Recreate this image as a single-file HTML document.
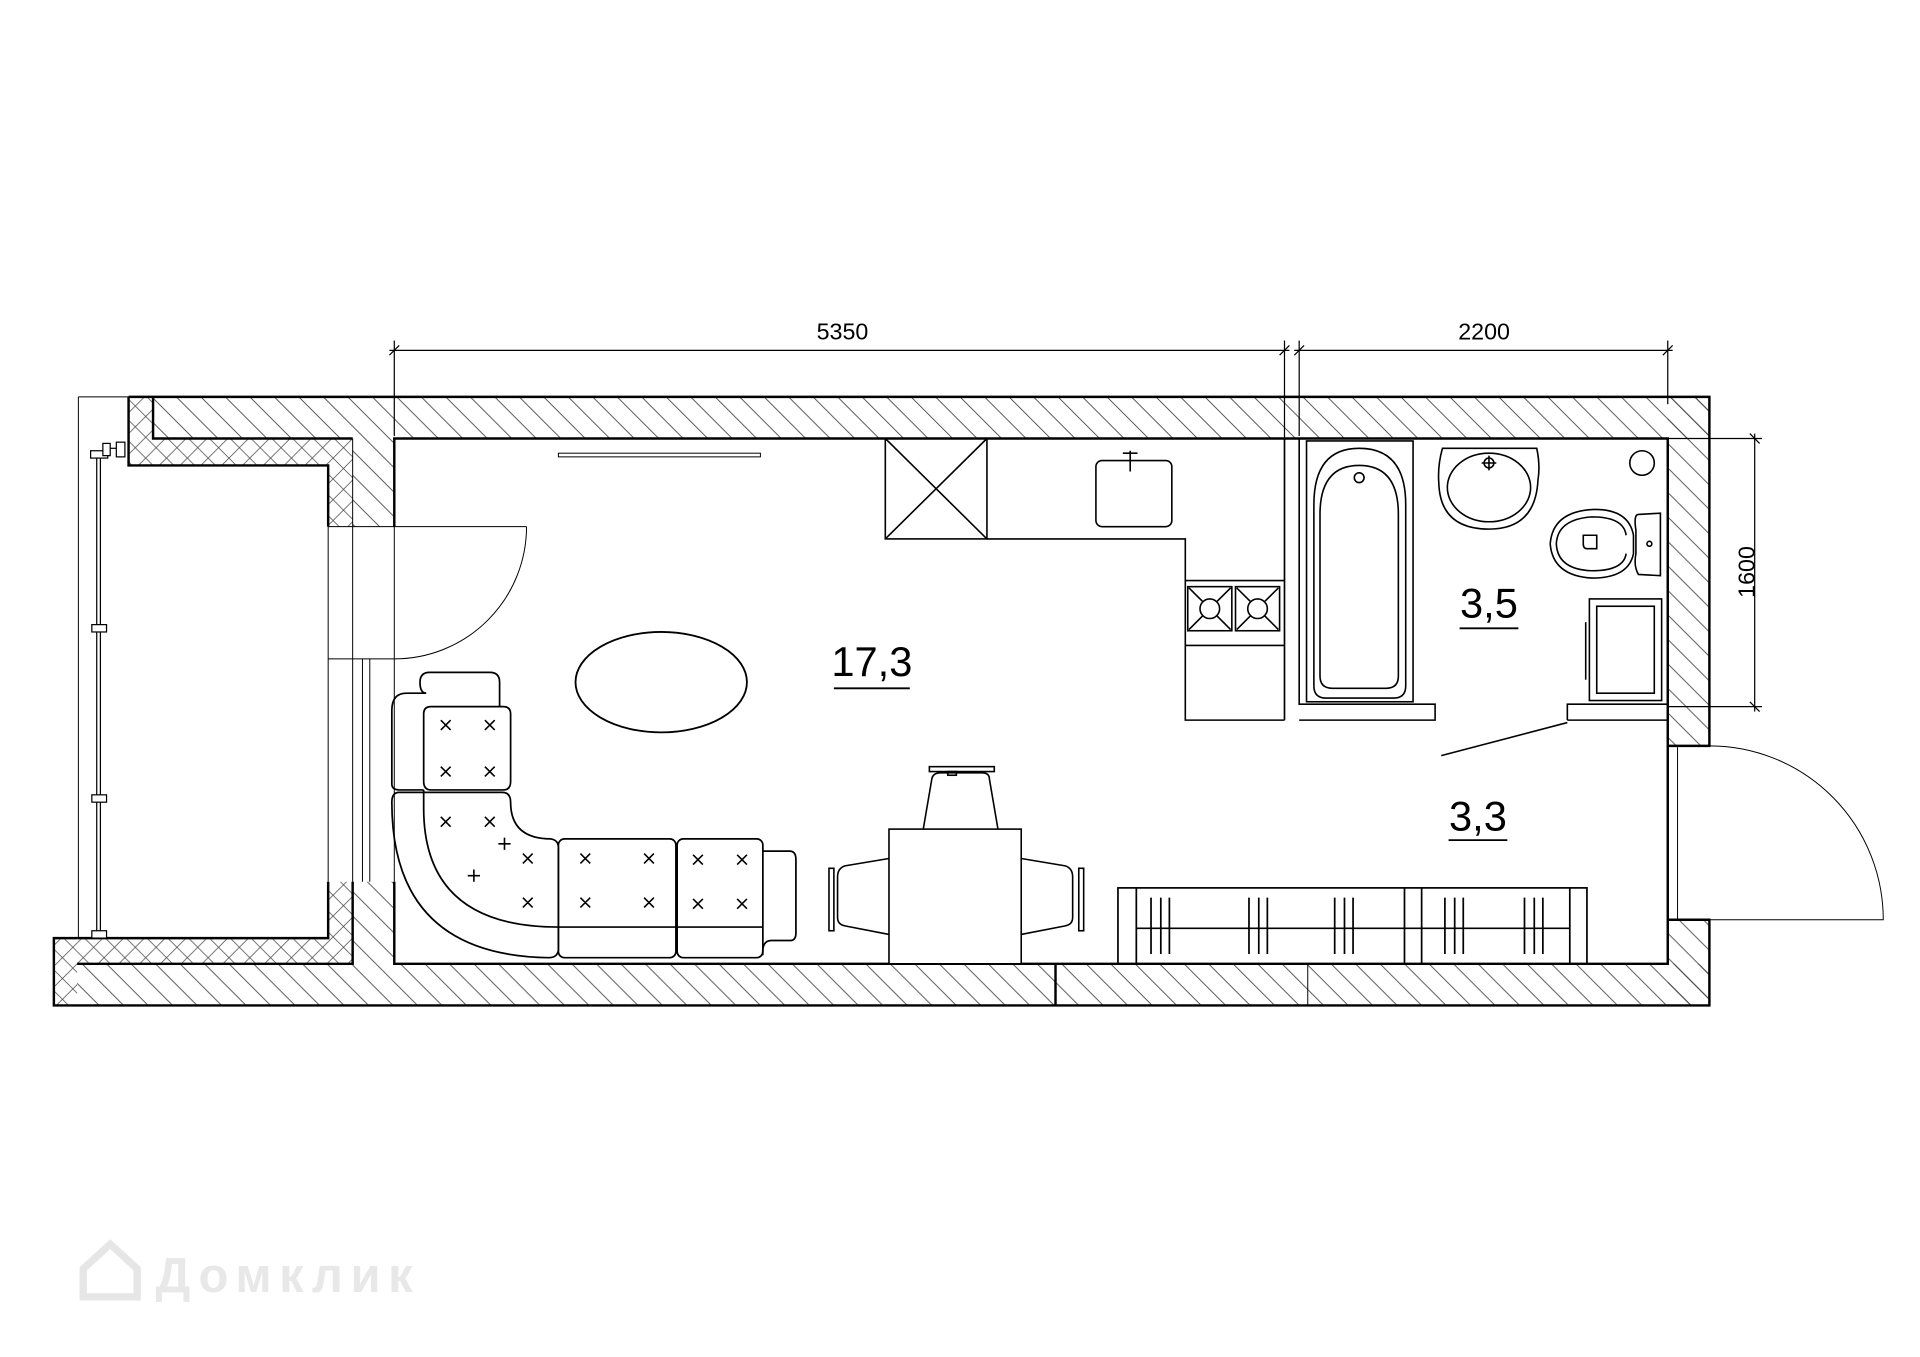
<!DOCTYPE html>
<html><head><meta charset="utf-8"><style>
html,body{margin:0;padding:0;background:#fff;}
svg{display:block}
text{font-family:"Liberation Sans",sans-serif;}
</style></head><body>
<svg width="1920" height="1357" viewBox="0 0 1568 1108" xmlns="http://www.w3.org/2000/svg">
<defs>
<pattern id="h" width="20" height="20" patternUnits="userSpaceOnUse">
<path d="M-4,-4 L24,24 M-4,16 L4,24 M16,-4 L24,4" stroke="#444" stroke-width="0.7"/>
</pattern>
<pattern id="x" width="17" height="17" patternUnits="userSpaceOnUse">
<path d="M-4,-4 L21,21 M-4,13 L4,21 M13,-4 L21,4 M-4,21 L21,-4 M-4,4 L4,-4 M13,21 L21,13" stroke="#444" stroke-width="0.6"/>
</pattern>
</defs>
<rect width="1568" height="1108" fill="#fff"/>
<g fill="none" stroke="#000">
<rect x="125" y="324" width="1271" height="34" fill="url(#h)" stroke="none"/>
<rect x="1362" y="324" width="34" height="285" fill="url(#h)" stroke="none"/>
<rect x="1362" y="751" width="34" height="70" fill="url(#h)" stroke="none"/>
<rect x="63" y="787" width="1333" height="34" fill="url(#h)" stroke="none"/>
<rect x="288" y="358" width="34" height="72" fill="url(#h)" stroke="none"/>
<rect x="288" y="720" width="34" height="67" fill="url(#h)" stroke="none"/>
<path d="M105,324 H125 V358 H288 V430 H268 V380 H105 Z" fill="url(#x)" stroke="none"/>
<path d="M63,766 H268 V720 H288 V787 H63 Z" fill="url(#x)" stroke="none"/>
<rect x="44" y="766" width="19" height="55" fill="url(#x)" stroke="none"/>
<g stroke-width="2">
<path d="M105,324 H1396 V609 H1362 V358 H322 V430"/>
<path d="M105,324 V380 H268 V430"/>
<path d="M125,324 V358 H288"/>
<path d="M268,720 V766 H63"/>
<path d="M322,720 V787 H1362 V751 H1396 V821 H44 V766 H63"/>
<path d="M63,787 H288 V720"/>
<path d="M1362,609 V751"/>
<line x1="862" y1="787" x2="862" y2="821"/>
</g>
<g stroke-width="0.8">
<line x1="64" y1="324" x2="105" y2="324"/>
<line x1="64" y1="324" x2="64" y2="766"/>
<line x1="288" y1="358" x2="288" y2="787"/>
<line x1="268" y1="430" x2="430" y2="430"/>
<line x1="268" y1="538" x2="322" y2="538"/>
<line x1="268" y1="430" x2="268" y2="720"/>
<line x1="296" y1="538" x2="296" y2="720"/>
<line x1="302" y1="538" x2="302" y2="720"/>
<line x1="322" y1="430" x2="322" y2="720"/>
<path d="M430,430 A108,108 0 0 1 322,538"/>
<path d="M1396,609 A142,142 0 0 1 1538,751 H1396"/>
<line x1="1068" y1="787" x2="1068" y2="821"/>
<line x1="1370" y1="610" x2="1370" y2="751"/>
<rect x="456" y="370" width="165" height="3"/>
</g>
<g stroke-width="1">
<line x1="79" y1="368" x2="79" y2="762"/><line x1="82" y1="368" x2="82" y2="762"/>
<rect x="75" y="510" width="12" height="6" fill="#fff"/>
<rect x="75" y="649" width="12" height="6" fill="#fff"/>
<rect x="75" y="760" width="12" height="6" fill="#fff"/>
<rect x="74" y="368" width="14" height="6" fill="#fff"/>
<rect x="84" y="362" width="6" height="10" fill="#fff"/>
<rect x="95" y="361" width="7" height="12" fill="#fff"/>
<line x1="90" y1="366" x2="95" y2="366"/>
</g>
<g stroke-width="1">
<line x1="318" y1="286" x2="1053" y2="286"/>
<line x1="1057" y1="286" x2="1366" y2="286"/>
<line x1="322" y1="278" x2="322" y2="356"/>
<line x1="1049" y1="278" x2="1049" y2="588"/>
<line x1="1061" y1="278" x2="1061" y2="356"/>
<line x1="1362" y1="278" x2="1362" y2="330"/>
<line x1="1433" y1="354" x2="1433" y2="581"/>
<line x1="1362" y1="358" x2="1439" y2="358"/>
<line x1="1362" y1="577" x2="1439" y2="577"/>
<path d="M318,290 L326,282 M1045,290 L1053,282 M1057,290 L1065,282 M1358,290 L1366,282 M1429,354 L1437,362 M1429,573 L1437,581"/>
</g>
<g stroke-width="1.3">
<rect x="723" y="358" width="83" height="82"/>
<path d="M723,358 L806,440 M806,358 L723,440"/>
<path d="M806,440 H968 V588 H1049"/>
<rect x="895" y="376" width="62" height="54" rx="5"/>
<path d="M923,368 V385 M917,370 H929"/>
<path d="M968,474 H1049 M968,527 H1049"/>
<rect x="970" y="479" width="36" height="36"/><rect x="1009" y="479" width="36" height="36"/>
<circle cx="988" cy="497" r="8"/><circle cx="1027" cy="497" r="8"/>
<path d="M971,480 L982,491 M1005,480 L994,491 M971,514 L982,503 M1005,514 L994,503 M1010,480 L1021,491 M1044,480 L1033,491 M1010,514 L1021,503 M1044,514 L1033,503"/>
</g>
<g stroke-width="1.3">
<path d="M1049,358 V588 M1061,358 V575 H1172 V588 H1061"/>
<path d="M1280,588 V575 H1362 M1280,588 H1362"/>
<rect x="1067" y="360" width="87" height="213"/>
<path d="M1073,412 Q1073,366 1110,366 Q1148,366 1148,412 V560 Q1148,570 1138,570 H1083 Q1073,570 1073,560 Z"/>
<path d="M1078,420 Q1078,380 1110,380 Q1142,380 1142,420 V552 Q1142,562 1132,562 H1088 Q1078,562 1078,552 Z"/>
<circle cx="1110" cy="390" r="4"/>
<path d="M1178,366 H1255 Q1258,380 1256,392 Q1254,432 1216,432 Q1176,432 1175,394 Q1174,380 1178,366 Z"/>
<ellipse cx="1216" cy="398" rx="34" ry="28"/>
<circle cx="1216" cy="378" r="4"/><path d="M1210,378 H1222 M1216,372 V384"/>
<circle cx="1341" cy="378" r="10"/>
<path d="M1334,437 Q1330,415 1300,416 Q1268,418 1266,444 Q1268,470 1300,472 Q1330,472 1334,452 Z"/>
<path d="M1328,437 Q1326,422 1300,422 Q1272,424 1271,444 Q1272,465 1300,466 Q1326,466 1328,452"/>
<path d="M1336,433 Q1334,420 1338,420 L1356,419 V470 L1338,469 Q1334,462 1336,452 Z"/>
<circle cx="1347" cy="444" r="2"/>
<path d="M1293,437 H1304 V448 H1296 Q1293,448 1293,444 Z"/>
<rect x="1298" y="489" width="59" height="83"/>
<rect x="1304" y="495" width="47" height="71"/>
<line x1="1295" y1="508" x2="1295" y2="555"/>
<line x1="1177" y1="617" x2="1280" y2="590"/>
</g>
<ellipse cx="540" cy="557" rx="70" ry="41" stroke-width="1.5"/>
<g stroke-width="1.3">
<rect x="726" y="677" width="108" height="110" fill="#fff"/>
<path d="M754,677 L761,636 Q762,631 768,631 H802 Q808,631 808,636 L815,677"/>
<rect x="759" y="626" width="53" height="4"/><rect x="774" y="630" width="7" height="3"/>
<path d="M726,701 L690,707 Q684,709 684,716 V749 Q684,755 690,756 L726,763"/>
<rect x="677" y="709" width="4" height="51"/>
<path d="M834,701 L870,707 Q876,709 876,716 V749 Q876,755 870,756 L834,763"/>
<rect x="881" y="709" width="4" height="51"/>
</g>
<g stroke-width="1.4">
<path d="M348,566 Q343,566 343,557 Q343,549 351,549 H400 Q408,549 408,557 V577"/>
<path d="M348,566 H332 Q320,566 320,580 V640 Q320,645 326,645 H346"/>
<path d="M346,583 Q346,577 352,577 H411 Q417,577 417,583 V638 Q417,645 411,645 H352 Q346,645 346,638 Z"/>
<path d="M326,647 H410 Q417,647 417,655 Q417,685 450,685 Q456,686 456,692 V776 Q455,782 448,782 Q320,780 320,655 Q320,647 326,647 Z"/>
<path d="M346,645 V660 Q346,757 456,757"/>
<rect x="456" y="685" width="96" height="97" rx="5"/>
<rect x="553" y="685" width="70" height="97" rx="5"/>
<path d="M456,757 H623 M623,695 H645 Q650,695 650,702 V762 Q650,768 645,768 H630 Q622,768 623,780"/>
</g>
<g stroke-width="1.3">
<path d="M360,588 l8,8 m0,-8 l-8,8 M396,588 l8,8 m0,-8 l-8,8 M360,626 l8,8 m0,-8 l-8,8 M396,626 l8,8 m0,-8 l-8,8 M360,667 l8,8 m0,-8 l-8,8 M396,667 l8,8 m0,-8 l-8,8 M427,697 l8,8 m0,-8 l-8,8 M427,733 l8,8 m0,-8 l-8,8 M474,697 l8,8 m0,-8 l-8,8 M526,697 l8,8 m0,-8 l-8,8 M474,733 l8,8 m0,-8 l-8,8 M526,733 l8,8 m0,-8 l-8,8 M566,698 l8,8 m0,-8 l-8,8 M602,698 l8,8 m0,-8 l-8,8 M566,734 l8,8 m0,-8 l-8,8 M602,734 l8,8 m0,-8 l-8,8"/>
<path d="M407,689 h10 m-5,-5 v10 M382,715 h10 m-5,-5 v10"/>
</g>
<g stroke-width="1.4">
<rect x="913" y="725" width="383" height="62"/>
<path d="M928,725 V787 M1147,725 V787 M1161,725 V787 M1282,725 V787 M928,758 H1282"/>
<path d="M940,733 V779 M948,733 V779 M955,733 V779 M1020,733 V779 M1028,733 V779 M1035,733 V779 M1090,733 V779 M1098,733 V779 M1105,733 V779 M1180,733 V779 M1188,733 V779 M1195,733 V779 M1245,733 V779 M1253,733 V779 M1260,733 V779"/>
</g>
<g stroke-width="1.5">
<line x1="681" y1="562" x2="743" y2="562"/>
<line x1="1192" y1="513" x2="1240" y2="513"/>
<line x1="1183" y1="686" x2="1231" y2="686"/>
</g>
</g>
<g fill="#000">
<text x="688" y="277" font-size="19" text-anchor="middle">5350</text>
<text x="1212" y="277" font-size="19" text-anchor="middle">2200</text>
<text x="1427" y="467" font-size="19" text-anchor="middle" transform="rotate(-90 1427 467)" dy="6">1600</text>
<text x="712" y="552" font-size="34" text-anchor="middle">17,3</text>
<text x="1216" y="504" font-size="34" text-anchor="middle">3,5</text>
<text x="1207" y="678" font-size="34" text-anchor="middle">3,3</text>
</g>
<text x="127" y="1055" font-size="40" font-weight="bold" fill="#e8e8e8" textLength="210">Домклик</text>
<path d="M68,1036 L90,1016 L112,1036 V1059 H68 Z" fill="none" stroke="#e6e6e6" stroke-width="6"/>
</svg>
</body></html>
